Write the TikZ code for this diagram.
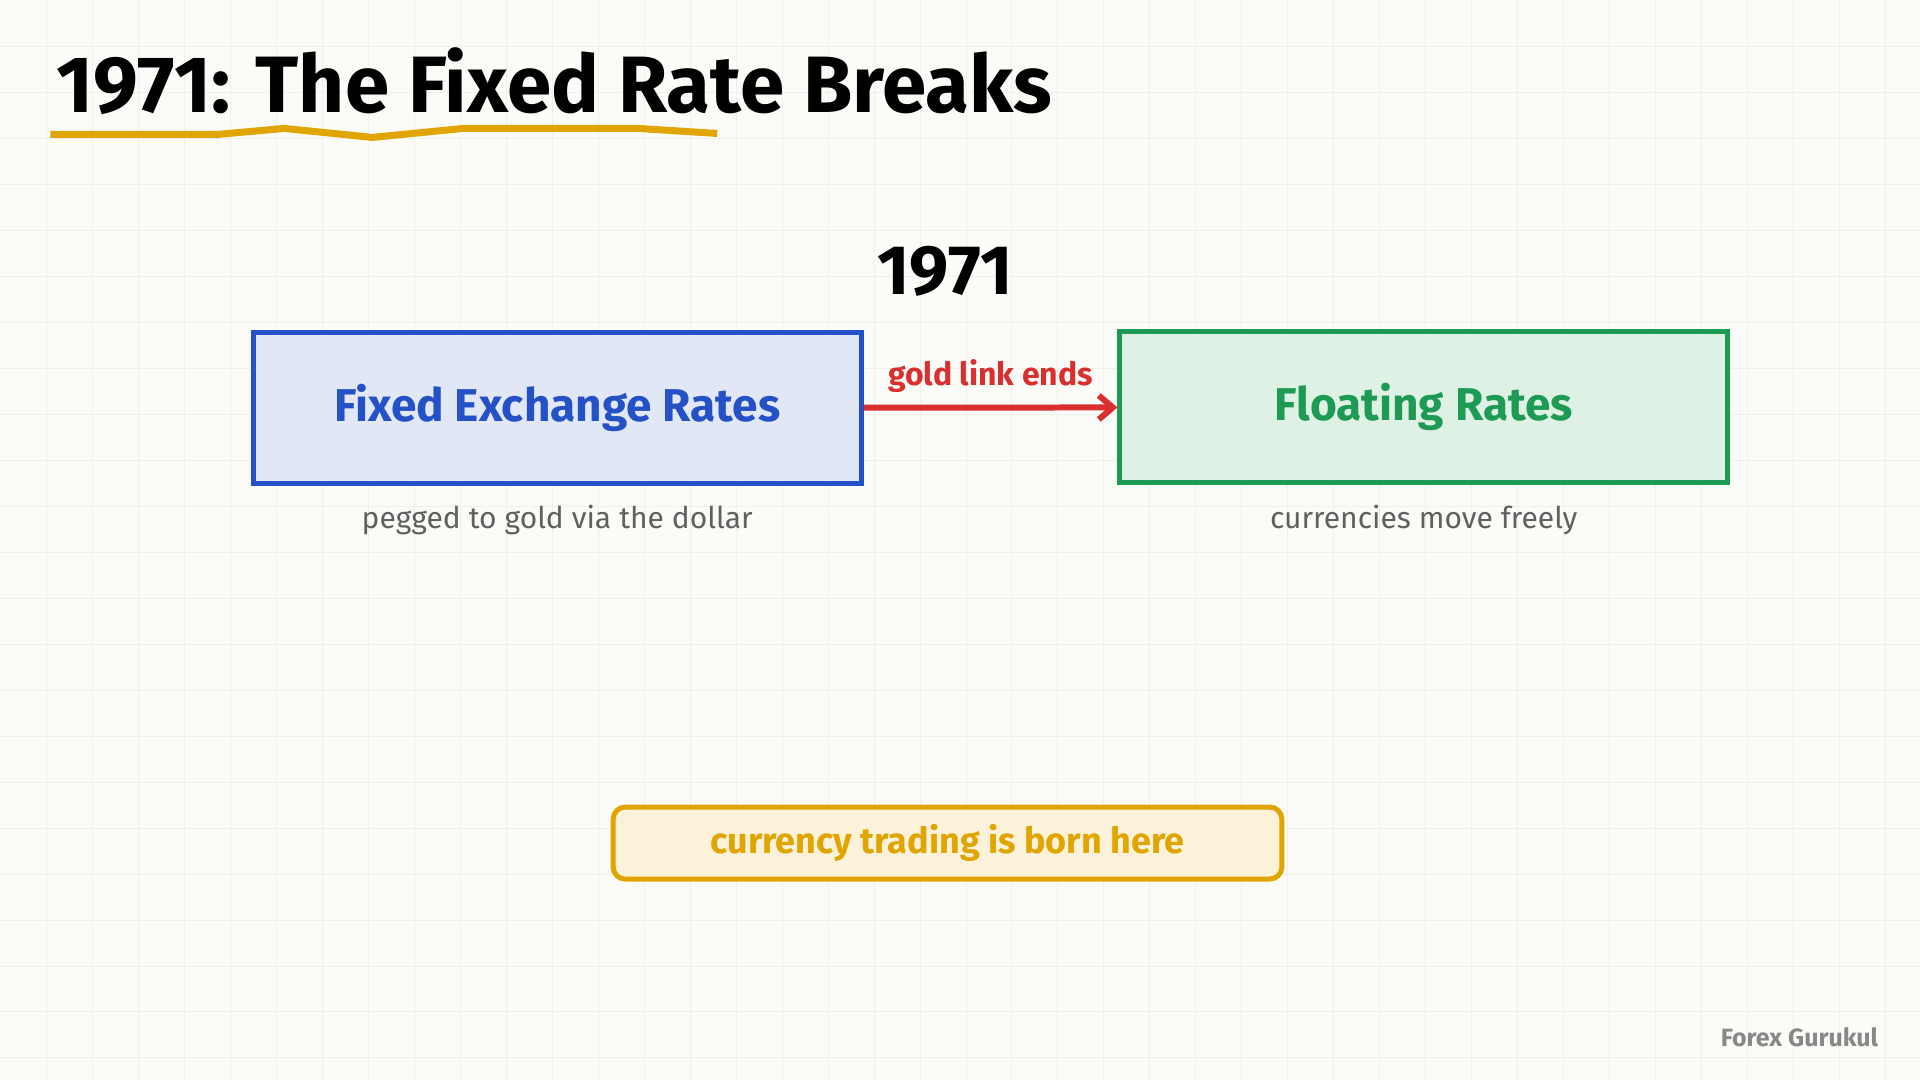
\documentclass[tikz,border=0pt]{standalone}
\usepackage{fontspec}
\setmainfont{Fira Sans}
\usepackage{tikz}
\usetikzlibrary{positioning}
\usetikzlibrary{arrows.meta}

\definecolor{bgcol}{HTML}{FBFBF8}
\definecolor{gridcol}{HTML}{EFEFEC}
\definecolor{bluecol}{HTML}{2452C6}
\definecolor{bluefill}{HTML}{E1E7F5}
\definecolor{greencol}{HTML}{1D9B55}
\definecolor{greenfill}{HTML}{DFF0E5}
\definecolor{redcol}{HTML}{D9302F}
\definecolor{goldcol}{HTML}{E0A500}
\definecolor{goldfill}{HTML}{FCF2DA}
\definecolor{notegray}{HTML}{606060}
\definecolor{brandgray}{HTML}{888888}

\tikzset{
  ratebox/.style={draw, line width=2.5pt, minimum width=304pt, minimum height=75.5pt,
    font=\fontsize{23}{26}\selectfont\bfseries},
  notetext/.style={text=notegray, inner sep=0pt, font=\fontsize{15}{17}\selectfont},
  linkarrow/.style={draw=redcol, line width=3pt, -{Straight Barb[length=7pt,width=12pt]}},
}

\begin{document}
\begin{tikzpicture}[x=0.5pt,y=-0.5pt]
        % Background and grid
        \fill[bgcol] (0,0) rectangle (1920,1080);
        \foreach \gx in {46,92,...,1900}
            \draw[gridcol, line width=0.5pt] (\gx,0) -- (\gx,1080);
        \foreach \gy in {46,92,...,1060}
            \draw[gridcol, line width=0.5pt] (0,\gy) -- (1920,\gy);

        % Title
        \node[anchor=base west, inner sep=0pt, font=\fontsize{40}{44}\selectfont\bfseries]
            (title) at (56,112) {1971: The Fixed Rate Breaks};
        \draw[goldcol, line width=3.5pt, line join=round]
            (50,134) -- (217,134) -- (284,128) -- (372,137) -- (463,128) -- (638,128) -- (717,133);

        % Nodes
        \node[inner sep=0pt, font=\fontsize{35}{38}\selectfont\bfseries] (year) at (945,271) {1971};
        \node[ratebox, draw=bluecol, fill=bluefill, text=bluecol] (fixed) at (557,407.5) {Fixed Exchange Rates};
        \node[ratebox, draw=greencol, fill=greenfill, text=greencol] (floating) at (1424,407) {Floating Rates};

        \node[notetext, anchor=base] (fixednote) at (557,528) {pegged to gold via the dollar};
        \node[notetext, anchor=base] (floatnote) at (1424,528) {currencies move freely};

        \draw[linkarrow] (fixed) -- (floating)
            node[midway, above=6pt, inner sep=0pt, text=redcol, font=\fontsize{16}{18}\selectfont\bfseries] (linklabel) {gold link ends};

        \node[draw=goldcol, fill=goldfill, line width=2.5pt, rounded corners=6pt,
              minimum width=334.5pt, minimum height=36pt, text=goldcol,
              font=\fontsize{18}{20}\selectfont\bfseries] (born) at (947.5,843) {currency trading is born here};

        \node[anchor=base east, inner sep=0pt, text=brandgray, font=\fontsize{12.5}{14}\selectfont\bfseries]
            (brand) at (1879,1047) {Forex Gurukul};
\end{tikzpicture}
\end{document}
